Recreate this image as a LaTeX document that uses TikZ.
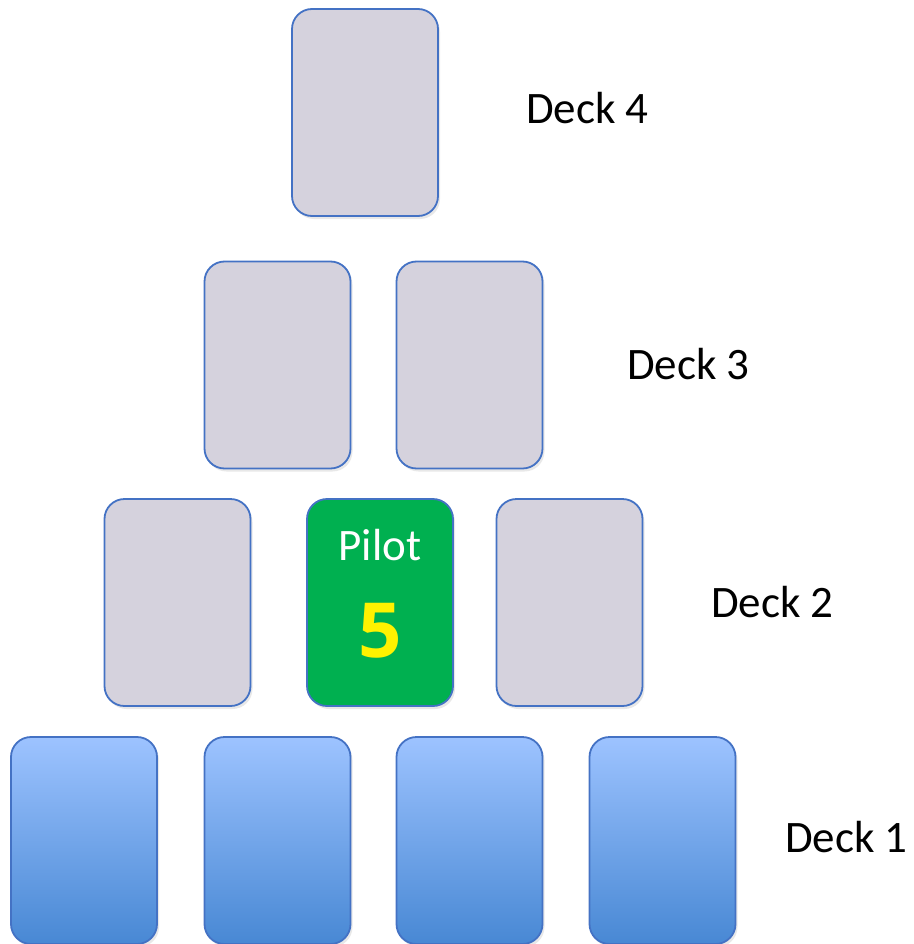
\documentclass[tikz,border=0pt]{standalone}
\usepackage{fontspec}
\setmainfont{Carlito}[BoldFont={Carlito Bold}, ItalicFont={Carlito Italic},
  BoldItalicFont={Carlito Bold Italic}]
\newfontfamily\numfont{Open Sans}
\usepackage{tikz}
\usetikzlibrary{positioning, shadows}
\usepackage{xcolor}
\definecolor{cardedge}{RGB}{68,114,196}
\definecolor{cardgrey}{RGB}{213,210,221}
\definecolor{pilotgreen}{RGB}{0,176,80}
\definecolor{deckhi}{RGB}{157,195,255}
\definecolor{decklo}{RGB}{72,136,212}

\begin{document}
\begin{tikzpicture}[
  x=1pt, y=-1pt,
  card/.style={draw=cardedge, line width=1.8pt, rounded corners=20pt,
               minimum width=146pt, minimum height=207pt, inner sep=0pt,
               drop shadow={opacity=0.18, shadow xshift=2pt, shadow yshift=-3pt}},
  greycard/.style={card, fill=cardgrey},
  bluecard/.style={card, top color=deckhi, bottom color=decklo},
  pilotcard/.style={card, fill=pilotgreen},
  decklbl/.style={font=\fontsize{45}{54}\selectfont, inner sep=0pt, anchor=base west}
]
\useasboundingbox (0,0) rectangle (913,944);

% ---------------------------------------------- deck 4
\node[greycard] (d4a) at (365,112.5) {};
\node[decklbl] (lbl4) at (526,124) {Deck 4};

% ---------------------------------------------- deck 3
\node[greycard] (d3a) at (277.5,365) {};
\node[greycard] (d3b) at (469.5,365) {};
\node[decklbl] (lbl3) at (627,379) {Deck 3};

% ---------------------------------------------- deck 2, with the pilot
\node[greycard] (d2a) at (177.5,602.5) {};
\node[pilotcard] (pilot) at (380,602.5) {};
\node[greycard] (d2c) at (569.5,602.5) {};
\node[decklbl] (lbl2) at (711,617) {Deck 2};

\node[font=\fontsize{45}{54}\selectfont, text=white, inner sep=0pt, anchor=base]
  (pilotname) at (380,560) {Pilot};
\node[font=\numfont\fontsize{76}{90}\selectfont\bfseries, text=yellow, inner sep=0pt, anchor=base]
  (pilotnum) at (380,657) {5};

% ---------------------------------------------- deck 1
\node[bluecard] (d1a) at (84,840.5) {};
\node[bluecard] (d1b) at (277.5,840.5) {};
\node[bluecard] (d1c) at (469.5,840.5) {};
\node[bluecard] (d1d) at (662.5,840.5) {};
\node[decklbl] (lbl1) at (785,852) {Deck 1};

\end{tikzpicture}
\end{document}
